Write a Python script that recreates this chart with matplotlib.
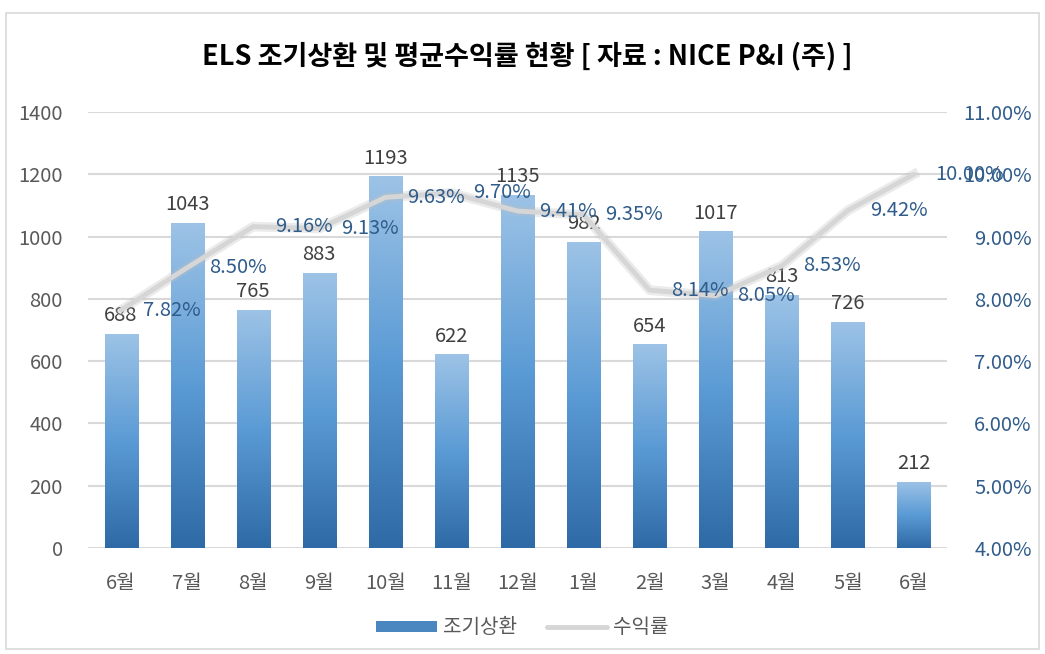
import numpy as np
import matplotlib
matplotlib.use('Agg')
import matplotlib.pyplot as plt
from matplotlib.patches import Rectangle, FancyBboxPatch
from matplotlib.colors import LinearSegmentedColormap

plt.rcParams['font.family'] = ['Noto Sans CJK KR', 'DejaVu Sans']

months = ['6월', '7월', '8월', '9월', '10월', '11월', '12월', '1월', '2월', '3월', '4월', '5월', '6월']
redemptions = [688, 1043, 765, 883, 1193, 622, 1135, 982, 654, 1017, 813, 726, 212]
yields = [7.82, 8.50, 9.16, 9.13, 9.63, 9.70, 9.41, 9.35, 8.14, 8.05, 8.53, 9.42, 10.00]

TITLE = 'ELS 조기상환 및 평균수익률 현황 [ 자료 : NICE P&I (주) ]'
TICK_GRAY = '#595959'
PCT_BLUE = '#2F5C8A'
FS = 14.5

fig = plt.figure(figsize=(10.45, 6.54), dpi=100)
fig.patches.append(FancyBboxPatch((0.006, 0.008), 0.988, 0.972, boxstyle='square,pad=0',
                                  transform=fig.transFigure, fill=False,
                                  edgecolor='#D9D9D9', linewidth=1.2))

ax = fig.add_axes([0.0842, 0.1621, 0.822, 0.6666])
x = np.arange(len(months))
width = 0.5

# gradient bars: light on top, dark at the bottom
cmap = LinearSegmentedColormap.from_list('bar', ['#9DC3E6', '#5B9BD5', '#2E6AA6'])
grad = np.linspace(0, 1, 256).reshape(-1, 1)
bars = ax.bar(x, redemptions, width, color='none', zorder=2)
for b in bars:
    bx, bw, bh = b.get_x(), b.get_width(), b.get_height()
    im = ax.imshow(grad, cmap=cmap, aspect='auto', origin='upper',
                   extent=[bx, bx + bw, 0, bh], zorder=2)
    im.set_clip_path(b)

for xi, v in zip(x, redemptions):
    ax.text(xi, v + 25, str(v), ha='center', va='bottom', fontsize=FS, color='#404040', zorder=5)

ax.set_xlim(-0.5, len(months) - 0.5)
ax.set_ylim(0, 1400)
ax.set_yticks(range(0, 1401, 200))
ax.set_xticks(x)
ax.set_xticklabels(months)
ax.yaxis.grid(True, color='#D9D9D9', linewidth=1.5, zorder=0)
ax.set_axisbelow(True)
for s in ax.spines.values():
    s.set_visible(False)
ax.tick_params(axis='both', length=0, labelsize=FS, colors=TICK_GRAY)
ax.tick_params(axis='y', pad=18)
ax.tick_params(axis='x', pad=18)

ax2 = ax.twinx()
ax2.set_ylim(4, 11)
ax2.set_yticks(np.arange(4, 11.01, 1))
ax2.set_yticklabels([f'{v:.2f}%' for v in np.arange(4, 11.01, 1)])
for s in ax2.spines.values():
    s.set_visible(False)
ax2.tick_params(axis='y', length=0, labelsize=FS, colors=PCT_BLUE, pad=61)
for lbl in ax2.get_yticklabels():
    lbl.set_horizontalalignment('right')

ax2.plot(x, yields, color='#BFBFBF', linewidth=7, alpha=0.3, zorder=3)
line, = ax2.plot(x, yields, color='#D6D6D6', linewidth=3.5, zorder=4,
                 solid_joinstyle='round', solid_capstyle='round')
for xi, v in zip(x, yields):
    ax2.text(xi + 0.33, v, f'{v:.2f}%', ha='left', va='center', fontsize=FS,
             color=PCT_BLUE, zorder=6)

fig.text(0.505, 0.915, TITLE, ha='center', va='center', fontsize=19.5, fontweight='bold',
         color='#000000')

legend_bar = Rectangle((0, 0), 1, 1, facecolor='#4A86C0', edgecolor='none')
fig.legend([legend_bar, line], ['조기상환', '수익률'], loc='center', bbox_to_anchor=(0.5, 0.04),
           ncol=2, frameon=False, fontsize=FS, handlelength=3.0, handleheight=0.45,
           handletextpad=0.3, columnspacing=1.5, labelcolor=TICK_GRAY)

fig.savefig('out.png', dpi=100)
